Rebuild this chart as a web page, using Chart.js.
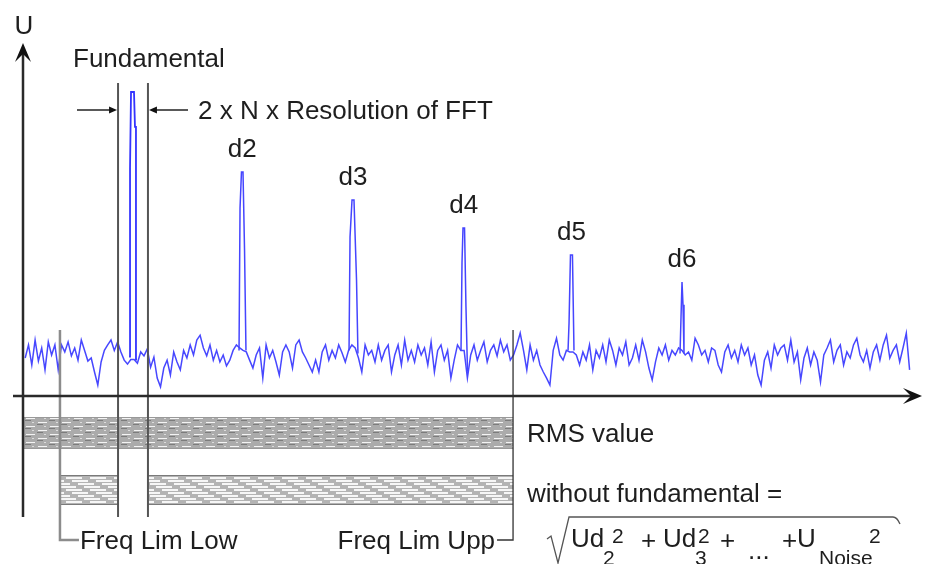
<!DOCTYPE html>
<html><head><meta charset="utf-8">
<script src="https://cdn.jsdelivr.net/npm/chart.js@4.4.1/dist/chart.umd.min.js"></script>
<style>html,body{margin:0;padding:0;background:#fff;overflow:hidden}canvas{display:block}</style>
</head><body>
<canvas id="c" width="927" height="564"></canvas>
<script>
// ---------------- data (frequency in multiples of the fundamental, level U in arbitrary units) ----------------
const noiseStartFreq = 0.02;
const noiseFreqStep = 0.03;
const noiseLevels = [
 12.5,16.8,10.2,18.4,11.5,15.8,8.6,17.8,13.5,16.8,
 8.6,16.8,14.5,17.8,13.2,15.8,11.8,18.4,15,11.5,
 12.5,7.9,3.6,11.2,15,16.8,18.4,15,17.8,14.5,
 11.8,10.5,12,12,10.8,14.5,13.2,15.5,9.5,12.8,
 5.9,3,9.2,11.8,6.9,14.5,11.2,8.6,15,12.5,
 16.8,13.5,18.4,20,15.8,13.2,16.8,11.8,15,11.2,
 13.5,9.9,11.8,15,16.8,15.8,15,14.5,11.8,9.2,
 13.5,15.8,5.9,16.8,12.5,15,11.2,6.9,14.5,16.8,
 14.5,9.2,16.8,18.4,14.5,12.5,10.2,7.9,11.8,7.9,
 14.5,16.8,11.8,15,12.5,16.8,14.2,11.2,15,16.8,
 15.8,12.5,7.9,16.8,13.5,15,11.2,16.8,11.8,15,
 16.8,7.9,13.5,16.8,10.2,18.4,11.8,15,11.2,16.8,
 13.5,15.8,10.2,17.8,7.9,15,16.8,11.8,15,5.9,
 11.8,16.8,15,15,5.9,13.5,16.8,11.8,15,17.8,
 11.2,15,16.8,13.2,18.4,14.5,16.8,11.8,13.5,16.8,
 20.7,15,8.6,16.8,11.8,15,10.2,7.9,5.9,3.6,
 15,19,13.5,11.8,15,14.5,14.5,13.5,10.2,14.5,
 11.8,16.8,8.6,15,12.5,16.8,11.2,18.4,15,10.2,
 15.8,13.5,17.8,10.2,12.5,16.8,11.8,18.4,14.5,9.2,
 5.3,11.2,15.8,13.5,16.8,11.8,15,13.5,15.8,15,
 13.5,14.5,11.8,19,16.8,13.5,15,11.2,15.8,15,
 10.2,7.9,14.5,16.8,12.5,15,11.2,16.8,13.5,15.8,
 10.2,13.5,6.9,3.6,11.8,14.5,9.2,16.8,13.5,15.8,
 16.8,11.8,18.4,11.2,14.5,5.3,12.5,15.8,10.2,14.5,
 11.8,4.6,13.5,15.8,18.4,11.2,15,16.8,10.2,14.5,
 12.5,16.8,19,13.5,11.2,15,9.2,14.5,16.8,11.8,
 16.8,20,12.5,15,16.8,11.2,15.8,20.7,8.6
];

const fundamentalFreq  = [0.964, 0.973, 0.973, 0.982, 1.009, 1.018, 1.027, 1.027, 1.036];
const fundamentalLevel = [13, 13, 75, 100, 100, 88.5, 88.5, 12, 12];

const harmonicNames = ['d2', 'd3', 'd4', 'd5', 'd6'];
const d2Freq  = [1.964, 1.973, 1.986, 2.000, 2.014, 2.027];
const d2Level = [15, 61.8, 73.7, 73.7, 48, 15];
const d3Freq  = [2.964, 2.973, 2.991, 3.009, 3.032, 3.045];
const d3Level = [15, 52.3, 64.5, 64.5, 38.2, 14];
const d4Freq  = [3.982, 3.991, 4.000, 4.014, 4.027, 4.041];
const d4Level = [15, 43.8, 55.3, 55.3, 29.3, 8];
const d5Freq  = [4.955, 4.964, 4.977, 4.995, 5.009];
const d5Level = [15, 24, 46.4, 46.4, 15];
const d6Freq  = [5.973, 5.982, 5.991, 6.000, 6.009];
const d6Level = [14, 26, 37.5, 30, 14];

const freqLimLow = 0.336;
const freqLimUpp = 4.455;
const fundamentalWindow = [0.864, 1.136];

// ---------------- build datasets ----------------
const toPts = (fs, ls) => fs.map((f, i) => ({ x: f, y: ls[i] }));
const noisePts = noiseLevels.map((v, i) => ({ x: noiseStartFreq + noiseFreqStep * i, y: v }));
const harmonicSets = [[d2Freq, d2Level], [d3Freq, d3Level], [d4Freq, d4Level], [d5Freq, d5Level], [d6Freq, d6Level]];

const FONT = '"Liberation Sans", Arial, Helvetica, sans-serif';

// ---------------- patterns ----------------
function makeRmsPattern(ctx) {
  const c = document.createElement('canvas'); c.width = 24; c.height = 8;
  const g = c.getContext('2d');
  g.fillStyle = '#ababab'; g.fillRect(0, 0, 24, 8);
  g.fillStyle = '#7c7c7c'; g.fillRect(13, 0, 6, 1); g.fillRect(1, 4, 6, 1);
  g.fillStyle = '#f4f4f4'; g.fillRect(2, 2, 9, 1); g.fillRect(14, 6, 9, 1);
  g.fillStyle = '#dcdcdc'; g.fillRect(20, 2, 2, 1); g.fillRect(8, 6, 2, 1);
  return ctx.createPattern(c, 'repeat');
}
function makeThdPattern(ctx) {
  const c = document.createElement('canvas'); c.width = 24; c.height = 12;
  const g = c.getContext('2d');
  g.fillStyle = '#b3b3b3'; g.fillRect(0, 0, 24, 12);
  g.fillStyle = '#f6f6f6';
  const offs = [0, 6, 12, 18];
  offs.forEach((o, r) => {
    for (let k = 0; k < 16; k++) g.fillRect((o + k) % 24, r * 3, 1, 2);
  });
  return ctx.createPattern(c, 'repeat');
}

function arrowHead(ctx, tx, ty, dx, dy, len, half, notch) {
  const px = -dy, py = dx;
  ctx.beginPath();
  ctx.moveTo(tx, ty);
  ctx.lineTo(tx - dx * len + px * half, ty - dy * len + py * half);
  ctx.lineTo(tx - dx * notch, ty - dy * notch);
  ctx.lineTo(tx - dx * len - px * half, ty - dy * len - py * half);
  ctx.closePath();
  ctx.fill();
}

const diagram = {
  id: 'diagram',
  beforeDatasetsDraw(chart) {
    const ctx = chart.ctx;
    const X = v => chart.scales.x.getPixelForValue(v);
    ctx.save();
    // RMS band
    ctx.fillStyle = makeRmsPattern(ctx);
    ctx.fillRect(X(0), 417, X(freqLimUpp) - X(0), 32);
    ctx.fillStyle = '#999';
    ctx.fillRect(X(0), 417, X(freqLimUpp) - X(0), 1);
    ctx.fillRect(X(0), 448, X(freqLimUpp) - X(0), 1);
    // without-fundamental band
    ctx.fillStyle = makeThdPattern(ctx);
    ctx.fillRect(X(freqLimLow), 475, X(fundamentalWindow[0]) - X(freqLimLow), 30);
    ctx.fillRect(X(fundamentalWindow[1]), 475, X(freqLimUpp) - X(fundamentalWindow[1]), 30);
    ctx.fillStyle = '#7a7a7a';
    ctx.fillRect(X(freqLimLow), 475, X(fundamentalWindow[0]) - X(freqLimLow), 1);
    ctx.fillRect(X(fundamentalWindow[1]), 475, X(freqLimUpp) - X(fundamentalWindow[1]), 1);
    ctx.fillRect(X(freqLimLow), 504, X(fundamentalWindow[0]) - X(freqLimLow), 1);
    ctx.fillRect(X(fundamentalWindow[1]), 504, X(freqLimUpp) - X(fundamentalWindow[1]), 1);
    ctx.restore();
  },
  afterDatasetsDraw(chart) {
    const ctx = chart.ctx;
    const X = v => chart.scales.x.getPixelForValue(v);
    const Y = v => chart.scales.y.getPixelForValue(v);
    ctx.save();
    const x0 = X(0), y0 = Y(0);

    // vertical marker lines
    ctx.lineCap = 'butt';
    ctx.strokeStyle = '#8c8c8c'; ctx.lineWidth = 2.5;
    ctx.beginPath();
    ctx.moveTo(X(freqLimLow), 330); ctx.lineTo(X(freqLimLow), 540); ctx.lineTo(X(freqLimLow) + 19, 540);
    ctx.stroke();
    ctx.strokeStyle = '#333'; ctx.lineWidth = 1.3;
    ctx.beginPath();
    ctx.moveTo(X(freqLimUpp), 330); ctx.lineTo(X(freqLimUpp), 540); ctx.lineTo(X(freqLimUpp) - 16, 540);
    ctx.stroke();
    ctx.strokeStyle = '#555'; ctx.lineWidth = 2;
    fundamentalWindow.forEach(f => {
      ctx.beginPath(); ctx.moveTo(X(f), 83); ctx.lineTo(X(f), 517); ctx.stroke();
    });

    // axes
    ctx.strokeStyle = '#2a2a2a'; ctx.fillStyle = '#111'; ctx.lineWidth = 2.5;
    ctx.beginPath(); ctx.moveTo(x0, 517); ctx.lineTo(x0, 50); ctx.stroke();
    ctx.beginPath(); ctx.moveTo(13, y0); ctx.lineTo(914, y0); ctx.stroke();
    arrowHead(ctx, x0, 43, 0, -1, 19, 8, 11);
    arrowHead(ctx, 922, y0, 1, 0, 19, 8, 11);

    // resolution dimension arrows
    ctx.lineWidth = 1.3; ctx.strokeStyle = '#222'; ctx.fillStyle = '#111';
    const L = X(fundamentalWindow[0]), R = X(fundamentalWindow[1]);
    ctx.beginPath(); ctx.moveTo(77, 110); ctx.lineTo(L - 4, 110); ctx.stroke();
    arrowHead(ctx, L - 1, 110, 1, 0, 8, 3.5, 8);
    ctx.beginPath(); ctx.moveTo(188, 110); ctx.lineTo(R + 4, 110); ctx.stroke();
    arrowHead(ctx, R + 1, 110, -1, 0, 8, 3.5, 8);

    // texts
    ctx.fillStyle = '#1e1e1e';
    ctx.textBaseline = 'alphabetic';
    ctx.font = '26px ' + FONT;
    ctx.textAlign = 'center';
    ctx.fillText('U', 24, 34);
    ctx.textAlign = 'left';
    ctx.fillText('Fundamental', 73, 67);
    ctx.fillText('2 x N x Resolution of FFT', 198, 119);
    ctx.fillText('RMS value', 527, 442);
    ctx.fillText('without fundamental =', 527, 502);
    ctx.fillText('Freq Lim Low', X(freqLimLow) + 20, 549);
    ctx.textAlign = 'right';
    ctx.fillText('Freq Lim Upp', X(freqLimUpp) - 18, 549);

    // harmonic labels above peaks
    ctx.textAlign = 'center';
    harmonicSets.forEach(([fs, ls], k) => {
      const top = Math.max(...ls);
      const fTop = fs.filter((f, i) => ls[i] === top);
      const fc = fTop.reduce((a, b) => a + b, 0) / fTop.length;
      ctx.fillText(harmonicNames[k], X(fc), Y(top) - 15);
    });

    // formula
    ctx.strokeStyle = '#555'; ctx.lineWidth = 1.3;
    ctx.beginPath();
    ctx.moveTo(547, 539); ctx.lineTo(551, 536); ctx.lineTo(558, 563); ctx.lineTo(569, 517);
    ctx.lineTo(893, 517); ctx.quadraticCurveTo(897, 517, 900, 524);
    ctx.stroke();
    ctx.textAlign = 'left';
    ctx.fillStyle = '#1e1e1e';
    const big = '26px ' + FONT, small = '21px ' + FONT;
    const put = (t, x, y, f) => { ctx.font = f; ctx.fillText(t, x, y); };
    put('Ud', 571, 547, big);
    put('2', 603, 565, small);
    put('2', 612, 543, small);
    put('+', 641, 549, big);
    put('Ud', 663, 547, big);
    put('3', 695, 565, small);
    put('2', 698, 543, small);
    put('+', 720, 549, big);
    put('...', 748, 559, big);
    put('+', 782, 549, big);
    put('U', 797, 547, big);
    put('Noise', 819, 565, small);
    put('2', 869, 543, small);
    ctx.restore();
  }
};

const datasets = [];
datasets.push({ data: toPts(fundamentalFreq, fundamentalLevel), borderColor: '#3434ff', borderWidth: 1.8 });
harmonicSets.forEach(([fs, ls]) => datasets.push({ data: toPts(fs, ls), borderColor: '#4545ff', borderWidth: 1.5 }));
datasets.push({ data: noisePts, borderColor: 'rgba(25,25,255,0.8)', borderWidth: 1.5 });

new Chart(document.getElementById('c'), {
  type: 'line',
  data: { datasets },
  options: {
    responsive: false,
    animation: false,
    devicePixelRatio: 1,
    layout: { padding: 0 },
    elements: { point: { radius: 0 }, line: { tension: 0, borderJoinStyle: 'miter' } },
    plugins: { legend: { display: false }, tooltip: { enabled: false }, title: { display: false } },
    scales: {
      x: { type: 'linear', min: -23 / 110, max: 904 / 110, display: false },
      y: { type: 'linear', min: -168 / 3.04, max: 396 / 3.04, display: false }
    }
  },
  plugins: [diagram]
});
</script>
</body></html>
